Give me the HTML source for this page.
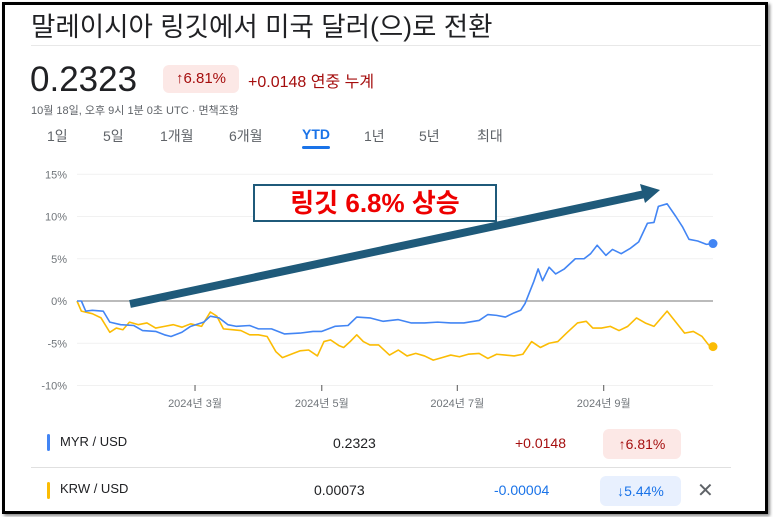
<!DOCTYPE html>
<html><head><meta charset="utf-8"><style>
body{margin:0;width:773px;height:517px;background:#fff;font-family:"Liberation Sans","Noto Sans CJK KR",sans-serif;position:relative;overflow:hidden}
.frame{position:absolute;left:2px;top:2px;width:760px;height:506px;border:3px solid #000;box-shadow:2px 2px 3px #888}
.abs{position:absolute;white-space:nowrap}
</style></head><body>
<div class="frame"></div>
<div class="abs" style="left:31px;top:5px;font-size:26.5px;color:#202124">말레이시아 링깃에서 미국 달러(으)로 전환</div>
<div class="abs" style="left:31px;top:45px;width:730px;height:1px;background:#e8e8e8"></div>
<div class="abs" style="left:30px;top:60px;font-size:35px;color:#202124">0.2323</div>
<div class="abs" style="left:163px;top:65px;width:76px;height:28px;background:#fce8e6;border-radius:6px;color:#a50e0e;font-size:15px;line-height:28px;text-align:center">↑6.81%</div>
<div class="abs" style="left:248px;top:68px;font-size:16px;color:#a50e0e">+0.0148 연중 누계</div>
<div class="abs" style="left:31px;top:102px;font-size:11px;color:#5f6368">10월 18일, 오후 9시 1분 0초 UTC · 면책조항</div>
<div>
<div class="abs" style="left:47px;top:126px;font-size:14px;color:#5f6368">1일</div>
<div class="abs" style="left:103px;top:126px;font-size:14px;color:#5f6368">5일</div>
<div class="abs" style="left:160px;top:126px;font-size:14px;color:#5f6368">1개월</div>
<div class="abs" style="left:229px;top:126px;font-size:14px;color:#5f6368">6개월</div>
<div class="abs" style="left:302px;top:126px;font-size:14px;color:#1a73e8;font-weight:bold">YTD</div>
<div class="abs" style="left:302px;top:146px;width:28px;height:3px;background:#1a73e8;border-radius:2px"></div>
<div class="abs" style="left:364px;top:126px;font-size:14px;color:#5f6368">1년</div>
<div class="abs" style="left:419px;top:126px;font-size:14px;color:#5f6368">5년</div>
<div class="abs" style="left:477px;top:126px;font-size:14px;color:#5f6368">최대</div>
</div>
<svg id="chart" style="position:absolute;left:0;top:0" width="773" height="420"></svg>
<div class="abs" style="left:253px;top:184px;width:240px;height:34px;border:2px solid #1f5a7a;background:#fff;color:#e00;font-weight:bold;font-size:26px;line-height:34px;text-align:center">링깃 6.8% 상승</div>
<div>
<div class="abs" style="left:47px;top:434px;width:3px;height:17px;background:#4285f4;border-radius:2px"></div>
<div class="abs" style="left:60px;top:434px;font-size:13px;color:#202124">MYR / USD</div>
<div class="abs" style="left:333px;top:435px;font-size:14px;color:#202124">0.2323</div>
<div class="abs" style="left:515px;top:435px;font-size:14px;color:#a50e0e">+0.0148</div>
<div class="abs" style="left:603px;top:429px;width:78px;height:30px;background:#fce8e6;border-radius:6px;color:#a50e0e;font-size:14px;line-height:30px;text-align:center">↑6.81%</div>
<div class="abs" style="left:31px;top:467px;width:700px;height:1px;background:#e0e0e0"></div>
<div class="abs" style="left:47px;top:482px;width:3px;height:17px;background:#fbbc04;border-radius:2px"></div>
<div class="abs" style="left:60px;top:481px;font-size:13px;color:#202124">KRW / USD</div>
<div class="abs" style="left:314px;top:482px;font-size:14px;color:#202124">0.00073</div>
<div class="abs" style="left:494px;top:482px;font-size:14px;color:#1a73e8">-0.00004</div>
<div class="abs" style="left:600px;top:476px;width:81px;height:30px;background:#e8f0fe;border-radius:6px;color:#1a73e8;font-size:14px;line-height:30px;text-align:center">↓5.44%</div>
<div class="abs" style="left:697px;top:478px;font-size:20px;color:#5f6368">✕</div>
</div>
<script>
const yTicks=[15,10,5,0,-5,-10];
const yTickLabels=["15%","10%","5%","0%","-5%","-10%"];
const xTickDays=[54,112,174,241];
const xTickLabels=["2024년 3월","2024년 5월","2024년 7월","2024년 9월"];
const myrDays=[0,2,4,7,12,15,20,26,30,36,40,43,48,52,58,61,65,69,73,79,83,89,95,102,108,112,118,124,128,134,140,147,153,159,165,171,177,184,188,192,196,200,203,205,207,209,211,213,216,219,223,228,232,235,238,242,245,249,253,257,261,264,266,270,274,277,280,284,288,291];
const myrValues=[0,0,-1.2,-1.1,-1.2,-2.5,-2.8,-2.9,-3.5,-3.6,-4.0,-4.2,-3.7,-3.0,-2.5,-1.8,-2.0,-2.8,-3.0,-2.9,-3.3,-3.3,-3.9,-3.8,-3.6,-3.6,-3.0,-2.9,-1.9,-2.0,-2.4,-2.2,-2.6,-2.6,-2.5,-2.6,-2.6,-2.3,-1.6,-1.7,-1.9,-1.4,-1.1,-0.3,1.0,2.3,3.8,2.4,4.0,3.2,3.8,5.0,5.0,5.6,6.6,5.4,6.1,5.6,6.2,7.0,9.2,9.3,11.2,11.5,10.0,8.8,7.3,7.1,6.7,6.8];
const krwDays=[0,2,7,11,15,18,21,24,28,32,36,40,44,48,52,57,61,64,67,71,75,79,83,87,91,94,99,102,106,110,113,116,120,122,125,128,131,134,138,143,147,151,155,159,163,167,171,175,179,184,188,192,196,200,204,208,212,216,220,224,229,233,236,240,244,248,252,256,260,264,270,274,278,282,286,289,291];
const krwValues=[0,-1.2,-1.5,-2.0,-3.7,-3.2,-3.4,-2.5,-2.8,-2.6,-3.2,-3.0,-2.8,-3.1,-2.7,-3.0,-1.3,-1.8,-3.3,-3.4,-3.5,-4.0,-4.0,-4.2,-6.0,-6.7,-6.2,-5.9,-5.8,-6.5,-4.8,-4.6,-5.3,-5.5,-4.8,-4.0,-4.8,-5.2,-5.2,-6.4,-5.8,-6.5,-6.2,-6.5,-7.0,-6.7,-6.4,-6.6,-6.3,-6.2,-6.8,-6.3,-6.4,-6.5,-6.3,-4.8,-5.5,-5.0,-4.8,-3.8,-2.6,-2.4,-3.2,-3.2,-3.0,-3.5,-3.0,-2.0,-2.6,-3.0,-1.2,-2.5,-3.8,-3.6,-4.2,-5.2,-5.4];
const NS="http://www.w3.org/2000/svg";
const svg=document.getElementById('chart');
const X0=77,X1=713,DMAX=291,Y0=301,PPU=8.45;
const xS=d=>X0+d/DMAX*(X1-X0);
const yS=v=>Y0-v*PPU;
function mk(t,a){const e=document.createElementNS(NS,t);for(const k in a)e.setAttribute(k,a[k]);svg.appendChild(e);return e;}
yTicks.forEach((v,i)=>{
  const g=mk('line',{x1:X0,x2:X1,y1:yS(v),y2:yS(v),stroke:v===0?'#777':'#f1f1f1','stroke-width':1});
  
  
  const t=mk('text',{x:67,y:yS(v)+4,'text-anchor':'end','font-size':11,fill:'#70757a','font-family':'Liberation Sans, sans-serif'});
  t.textContent=yTickLabels[i];
  
  
});
xTickDays.forEach((d,i)=>{
  const l=mk('line',{x1:xS(d),x2:xS(d),y1:385,y2:391,stroke:'#555','stroke-width':1});
  
  
  const t=mk('text',{x:xS(d),y:407,'text-anchor':'middle','font-size':11,fill:'#70757a','font-family':'Liberation Sans, Noto Sans CJK KR, sans-serif'});
  t.textContent=xTickLabels[i];
  
  
});
function series(days,vals,color,name){
  const p=mk('polyline',{points:days.map((d,i)=>xS(d)+','+yS(vals[i])).join(' '),fill:'none',stroke:color,'stroke-width':1.6,'stroke-linejoin':'round'});
  
  
  const n=days.length-1;
  const c=mk('circle',{cx:xS(days[n]),cy:yS(vals[n]),r:4.5,fill:color});
  
  
}
series(krwDays,krwValues,'#fbbc04','krw');
series(myrDays,myrValues,'#4285f4','myr');
const a=mk('line',{x1:130,y1:304,x2:645,y2:194,stroke:'#1f5a7a','stroke-width':8});


const h=mk('polygon',{points:'660,190 640,184 645,203',fill:'#1f5a7a'});


</script>
</body></html>
